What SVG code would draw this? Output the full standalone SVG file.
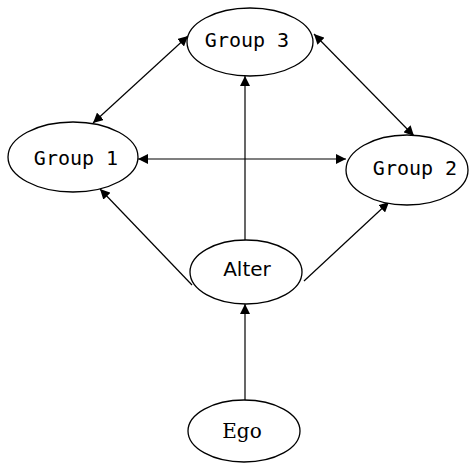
<svg xmlns="http://www.w3.org/2000/svg" width="469" height="463" viewBox="0 0 469 463">
<style>
.n ellipse{fill:#fff;stroke:#000;stroke-width:1.3}
.n text{font-size:20px;text-anchor:middle;fill:#000}
.m{font-family:"DejaVu Sans Mono",monospace}
.s{font-family:"DejaVu Sans",sans-serif}
.r{font-family:"DejaVu Serif",serif}
.c line{stroke:#000;stroke-width:1.2;fill:none}
</style>
<defs>
<marker id="a" viewBox="0 0 10 10" refX="10" refY="5" markerWidth="10" markerHeight="10" markerUnits="userSpaceOnUse" orient="auto-start-reverse">
<path d="M0,0 L10,5 L0,10 Z" fill="#000"/>
</marker>
</defs>
<g class="c" id="connectors">
<line x1="245" y1="400" x2="245" y2="304" marker-end="url(#a)"/>
<line x1="245" y1="240" x2="245" y2="76" marker-end="url(#a)"/>
<line x1="192" y1="285" x2="100" y2="189" marker-end="url(#a)"/>
<line x1="304" y1="281" x2="389" y2="202" marker-end="url(#a)"/>
<line x1="138" y1="159" x2="346" y2="159" marker-start="url(#a)" marker-end="url(#a)"/>
<line x1="188" y1="36" x2="93" y2="123" marker-start="url(#a)" marker-end="url(#a)"/>
<line x1="314" y1="34" x2="414" y2="136" marker-start="url(#a)" marker-end="url(#a)"/>
</g>
<g class="n" id="group3"><ellipse cx="250" cy="42" rx="63" ry="34"/><text class="m" x="247" y="47">Group 3</text></g>
<g class="n" id="group1"><ellipse cx="73" cy="157" rx="65" ry="35"/><text class="m" x="76" y="165">Group 1</text></g>
<g class="n" id="group2"><ellipse cx="407" cy="170" rx="61" ry="35"/><text class="m" x="415" y="175">Group 2</text></g>
<g class="n" id="alter"><ellipse cx="246" cy="272" rx="56" ry="32"/><text class="s" x="247" y="276">Alter</text></g>
<g class="n" id="ego"><ellipse cx="244" cy="431" rx="56" ry="31"/><text class="r" x="242" y="438">Ego</text></g>
</svg>
